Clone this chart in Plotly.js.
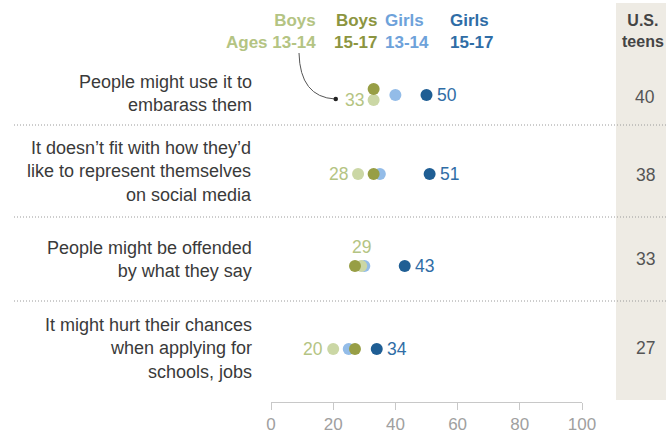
<!DOCTYPE html>
<html>
<head>
<meta charset="utf-8">
<script src="https://cdn.plot.ly/plotly-3.0.1.min.js"></script>
<style>html,body{margin:0;padding:0;background:#fff;}#chart{width:666px;height:437px;}</style>
</head>
<body>
<div id="chart"></div>
<script>
// ---- data ----
const categories = [
  "People might use it to<br>embarass them",
  "It doesn’t fit with how they’d<br>like to represent themselves<br>on social media",
  "People might be offended<br>by what they say",
  "It might hurt their chances<br>when applying for<br>schools, jobs"
];
const boys1314 = [33, 28, 29, 20];
const boys1517 = [33, 33, 27, 27];
const girls1314 = [40, 35, 30, 25];
const girls1517 = [50, 51, 43, 34];
const usTeens = [40, 38, 33, 27];
const seriesNames = ["Boys Ages 13-14", "Boys 15-17", "Girls 13-14", "Girls 15-17"];
const xTicks = [0, 20, 40, 60, 80, 100];

// ---- layout constants (pixel positions; y axis is in pixels) ----
const W = 666, H = 437;
const L = 271, R = 84, B = 35;
const plotW = W - L - R;
const rowY = [95, 174, 266, 349];
const labelY = [93, 171.5, 259.5, 348.5];
const usY = [97, 175, 259, 348];
const sepY = [125, 217, 301];
const nudgeOlive = [-6, 0, 0, 0];
const nudgeLightGreen = [5, 0, 0, 0];
const px = p => (p - L) / plotW;              // pixel -> paper x
const dx = p => (p - L) / plotW * 100;        // pixel -> data x

const C = {
  lg: '#cbd7a5', lgText: '#b4c483',
  ol: '#979e45', olText: '#8c9540',
  lb: '#93bce8', lbText: '#6ea2da',
  db: '#1f5e94', dbText: '#2f6da6'
};
const FONT = '"Liberation Sans", Arial, sans-serif';

function dots(vals, nudge, color, name) {
  return {
    type: 'scatter', mode: 'markers', name: name,
    x: vals, y: rowY.map((y, i) => y + (nudge ? nudge[i] : 0)),
    marker: {size: 12, color: color, line: {width: 0}},
    hoverinfo: 'x', showlegend: false, cliponaxis: false
  };
}

const traces = [
  dots(girls1314, null, C.lb, seriesNames[2]),
  dots(boys1314, nudgeLightGreen, C.lg, seriesNames[0]),
  dots(boys1517, nudgeOlive, C.ol, seriesNames[1]),
  dots(girls1517, null, C.db, seriesNames[3])
];

const annotations = [];
// category labels
categories.forEach((c, i) => annotations.push({
  xref: 'paper', yref: 'y', x: px(254), y: labelY[i], text: c,
  xanchor: 'right', yanchor: 'middle', align: 'right', showarrow: false,
  font: {family: FONT, size: 18, color: '#3a3a3a'}
}));
// value labels
boys1314.forEach((v, i) => {
  const above = i === 2;
  annotations.push({
    xref: 'x', yref: 'y', x: v, y: rowY[i] + nudgeLightGreen[i], text: String(v),
    xanchor: above ? 'center' : 'right', yanchor: 'middle', showarrow: false,
    xshift: above ? 0 : -8, yshift: above ? 19 : 0,
    font: {family: FONT, size: 17.5, color: C.lgText}
  });
});
girls1517.forEach((v, i) => annotations.push({
  xref: 'x', yref: 'y', x: v, y: rowY[i], text: String(v),
  xanchor: 'left', yanchor: 'middle', showarrow: false, xshift: 8,
  font: {family: FONT, size: 17.5, color: C.dbText}
}));
// header legend
const hdr = [
  {t: 'Boys<br>Ages 13-14', x: 318, anchor: 'right', col: C.lgText},
  {t: 'Boys<br>15-17', x: 379, anchor: 'right', col: C.olText},
  {t: 'Girls<br>13-14', x: 383, anchor: 'left', col: C.lbText},
  {t: 'Girls<br>15-17', x: 448, anchor: 'left', col: C.dbText}
];
hdr.forEach(h => annotations.push({
  xref: 'paper', yref: 'y', x: px(h.x), y: 31, text: '<b>' + h.t + '</b>',
  xanchor: h.anchor, yanchor: 'middle', align: h.anchor, showarrow: false,
  font: {family: FONT, size: 17, color: h.col}
}));
// U.S. teens column
annotations.push({
  xref: 'paper', yref: 'y', x: px(643), y: 31, text: '<b>U.S.<br>teens</b>',
  xanchor: 'center', yanchor: 'middle', align: 'center', showarrow: false,
  font: {family: FONT, size: 16, color: '#444'}
});
usTeens.forEach((v, i) => annotations.push({
  xref: 'paper', yref: 'y', x: px(645), y: usY[i], text: String(v),
  xanchor: 'center', yanchor: 'middle', showarrow: false,
  font: {family: FONT, size: 17.5, color: '#555'}
}));

const shapes = [
  {type: 'rect', xref: 'paper', yref: 'y', x0: px(616), x1: px(670), y0: 3, y1: 400,
   fillcolor: '#eeebe4', line: {width: 0}, layer: 'below'}
];
sepY.forEach(y => shapes.push({
  type: 'line', xref: 'paper', yref: 'y', x0: px(14), x1: px(668), y0: y, y1: y,
  line: {color: '#9a9a9a', width: 1, dash: '1px,2px'}, layer: 'above'
}));
// pointer from header to dot
shapes.push({
  type: 'path', xref: 'x', yref: 'y',
  path: `M ${dx(299)},53 Q ${dx(300)},97 ${dx(335)},99`,
  line: {color: '#555', width: 1}
});
shapes.push({
  type: 'circle', xref: 'x', yref: 'y', x0: dx(333.5), x1: dx(338), y0: 96.8, y1: 101.2,
  fillcolor: '#222', line: {width: 0}
});

const layout = {
  width: W, height: H,
  margin: {l: L, r: R, t: 0, b: B, pad: 0},
  paper_bgcolor: '#fff', plot_bgcolor: 'rgba(0,0,0,0)',
  showlegend: false,
  xaxis: {
    range: [0, 100], tickvals: xTicks, ticktext: xTicks.map(String),
    showline: true, linecolor: '#c8c8c8', linewidth: 1,
    ticks: 'outside', ticklen: 7, tickcolor: '#c8c8c8', tickwidth: 1,
    showgrid: false, zeroline: false, fixedrange: true,
    tickfont: {family: FONT, size: 17, color: '#a0a0a0'}
  },
  yaxis: {range: [402, 0], visible: false, fixedrange: true},
  annotations: annotations,
  shapes: shapes,
  font: {family: FONT}
};

Plotly.newPlot('chart', traces, layout, {displayModeBar: false, staticPlot: true});
</script>
</body>
</html>
